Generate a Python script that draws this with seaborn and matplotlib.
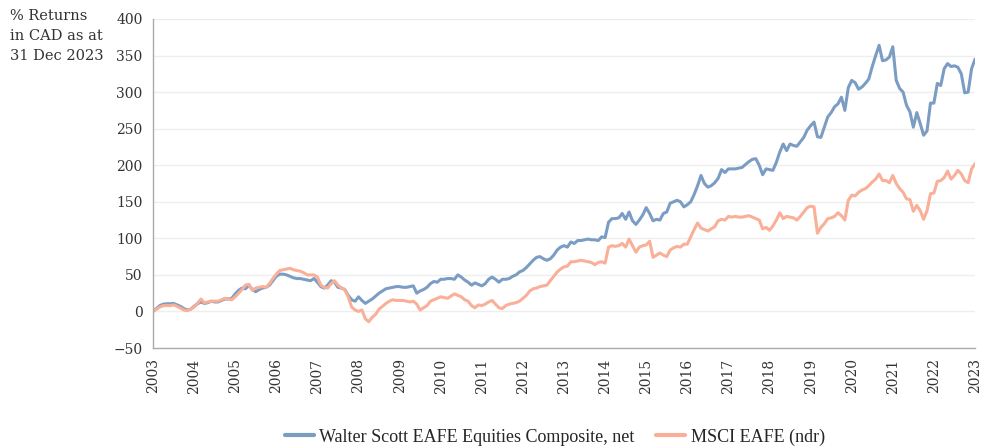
import numpy as np
import pandas as pd
import matplotlib
matplotlib.use("Agg")
import matplotlib.pyplot as plt
import seaborn as sns

## Data: cumulative % returns in CAD, month-end values
years = list(range(2003, 2024))

walter_scott = [
    0, 4, 8, 10, 10.5, 10.5, 11, 9, 7, 4, 2, 3,                       # 2003
    7, 10.5, 13, 11, 12, 14, 13, 13, 15, 17, 17, 18,                  # 2004
    24, 29, 32, 31, 36, 30, 27, 30, 32, 33, 36, 42,                   # 2005
    48, 51, 51, 50, 48, 46, 45, 45, 44, 43, 42, 45,                   # 2006
    40, 34, 32, 36, 42, 40, 33, 32, 30, 22, 16, 14,                   # 2007
    20, 15, 11, 14, 17, 21, 25, 28, 31, 32, 33, 34,                   # 2008
    34, 33, 33, 34, 35, 25, 28, 30, 33, 38, 41, 40,                   # 2009
    44, 44, 45, 45, 44, 50, 47, 43, 40, 36, 39, 37,                   # 2010
    35, 38, 44, 47, 44, 40, 44, 44, 45, 48, 50, 54,                   # 2011
    56, 60, 65, 70, 74, 75, 72, 70, 72, 77, 84, 88,                   # 2012
    90, 88, 95, 93, 97, 97, 98, 99, 98, 98, 97, 102,                  # 2013
    101, 122, 127, 127, 128, 134, 126, 136, 124, 119, 125, 132,       # 2014
    142, 134, 124, 126, 125, 134, 136, 148, 150, 152, 150, 143,       # 2015
    146, 150, 160, 172, 186, 175, 170, 172, 176, 182, 194, 190,       # 2016
    195, 195, 195, 196, 197, 201, 205, 208, 209, 200, 187, 195,       # 2017
    194, 193, 204, 218, 229, 220, 229, 227, 226, 232, 238, 248,       # 2018
    254, 259, 239, 238, 252, 266, 272, 280, 284, 293, 275, 306,       # 2019
    316, 313, 304, 307, 312, 318, 335, 350, 364, 343, 344, 348,       # 2020
    362, 316, 305, 300, 282, 273, 252, 272, 257, 241, 247, 285,       # 2021
    285, 312, 309, 332, 339, 335, 336, 334, 325, 299, 300, 332,       # 2022
    345,                                                              # 2023
]

msci_eafe = [
    0, 3, 6, 8, 8, 8, 9, 7, 4.5, 2, 1, 3,                             # 2003
    6, 11, 17, 12, 13, 14, 14, 14, 16, 18, 17, 16,                    # 2004
    20, 25, 30, 36, 37, 29, 32, 33, 34, 33, 38, 45,                   # 2005
    51, 56, 57, 58, 59, 57, 56, 55, 53, 50, 50, 50,                   # 2006
    47, 36, 33, 32, 38, 42, 36, 32, 30, 20, 6, 2,                     # 2007
    0, 2, -10, -14, -8, -4, 3, 7, 11, 14, 16, 15,                     # 2008
    15, 15, 14, 13, 14, 10, 2, 5, 8, 14, 16, 18,                      # 2009
    20, 19, 18, 21, 24, 22, 20, 16, 14, 8, 5, 9,                      # 2010
    8, 10, 13, 15, 10, 5, 4, 8, 10, 11, 12, 14,                       # 2011
    18, 22, 28, 31, 32, 34, 35, 36, 42, 48, 54, 58,                   # 2012
    61, 62, 68, 68, 69, 70, 69, 68, 67, 64, 67, 68,                   # 2013
    66, 88, 90, 89, 90, 93, 88, 99, 90, 81, 88, 90,                   # 2014
    91, 96, 74, 77, 80, 77, 75, 84, 87, 89, 88, 92,                   # 2015
    92, 102, 112, 121, 114, 112, 110, 113, 116, 124, 126, 125,        # 2016
    130, 129, 130, 129, 129, 130, 131, 129, 127, 125, 113, 115,       # 2017
    111, 117, 125, 135, 127, 130, 129, 128, 125, 130, 136, 142,       # 2018
    144, 143, 107, 115, 120, 127, 128, 130, 135, 131, 125, 152,       # 2019
    159, 158, 163, 166, 168, 172, 177, 181, 188, 179, 179, 176,       # 2020
    186, 175, 168, 163, 154, 153, 137, 145, 138, 126, 138, 161,       # 2021
    162, 178, 179, 183, 192, 181, 186, 193, 188, 179, 176, 195,       # 2022
    202,                                                              # 2023
]

series_names = ["Walter Scott EAFE Equities Composite, net", "MSCI EAFE (ndr)"]
line_colors = ["#7b9dc4", "#f9af98"]

## Build long-form table (time axis in decimal years)
t = 2003 + np.arange(len(walter_scott)) / 12
df = pd.DataFrame({
    "t": np.concatenate([t, t]),
    "value": walter_scott + msci_eafe,
    "series": [series_names[0]] * len(t) + [series_names[1]] * len(t),
})

## Plot
sns.set_style("white")
plt.rcParams["font.family"] = ["DejaVu Serif"]

fig = plt.figure(figsize=(9.89, 4.47), dpi=100)
ax = fig.add_axes([153 / 989, 1 - 348 / 447, (975 - 153) / 989, (348 - 19) / 447])

for y in range(0, 401, 50):
    ax.axhline(y, color="#eeeeee", lw=1, zorder=0)

sns.lineplot(data=df, x="t", y="value", hue="series", palette=line_colors,
             linewidth=2.2, ax=ax, legend=False)

ax.set_xlim(2003, 2023)
ax.set_ylim(-50, 400)
ax.set_xticks(years)
ax.set_xticklabels([str(y) for y in years], rotation=90)
ax.set_yticks(range(-50, 401, 50))
ax.set_xlabel("")
ax.set_ylabel("")
ax.tick_params(axis="both", labelsize=10, colors="#333333", length=4,
               width=0.8, direction="out")
ax.tick_params(axis="x", color="#aaaaaa")
ax.tick_params(axis="y", color="#aaaaaa")
for s in ["top", "right"]:
    ax.spines[s].set_visible(False)
for s in ["left", "bottom"]:
    ax.spines[s].set_color("#aaaaaa")
    ax.spines[s].set_linewidth(1)

fig.text(10 / 989, 1 - 9 / 447, "% Returns\nin CAD as at\n31 Dec 2023",
         ha="left", va="top", fontsize=10.5, color="#333333", linespacing=1.55)

handles = [plt.Line2D([], [], color=c, lw=3) for c in line_colors]
fig.legend(handles, series_names, loc="center", bbox_to_anchor=(0.561, 0.022),
           ncol=2, frameon=False, handlelength=1.6, handletextpad=0.3,
           columnspacing=1.2, prop={"family": "Liberation Serif", "size": 13})

fig.savefig("out.png", dpi=100)
